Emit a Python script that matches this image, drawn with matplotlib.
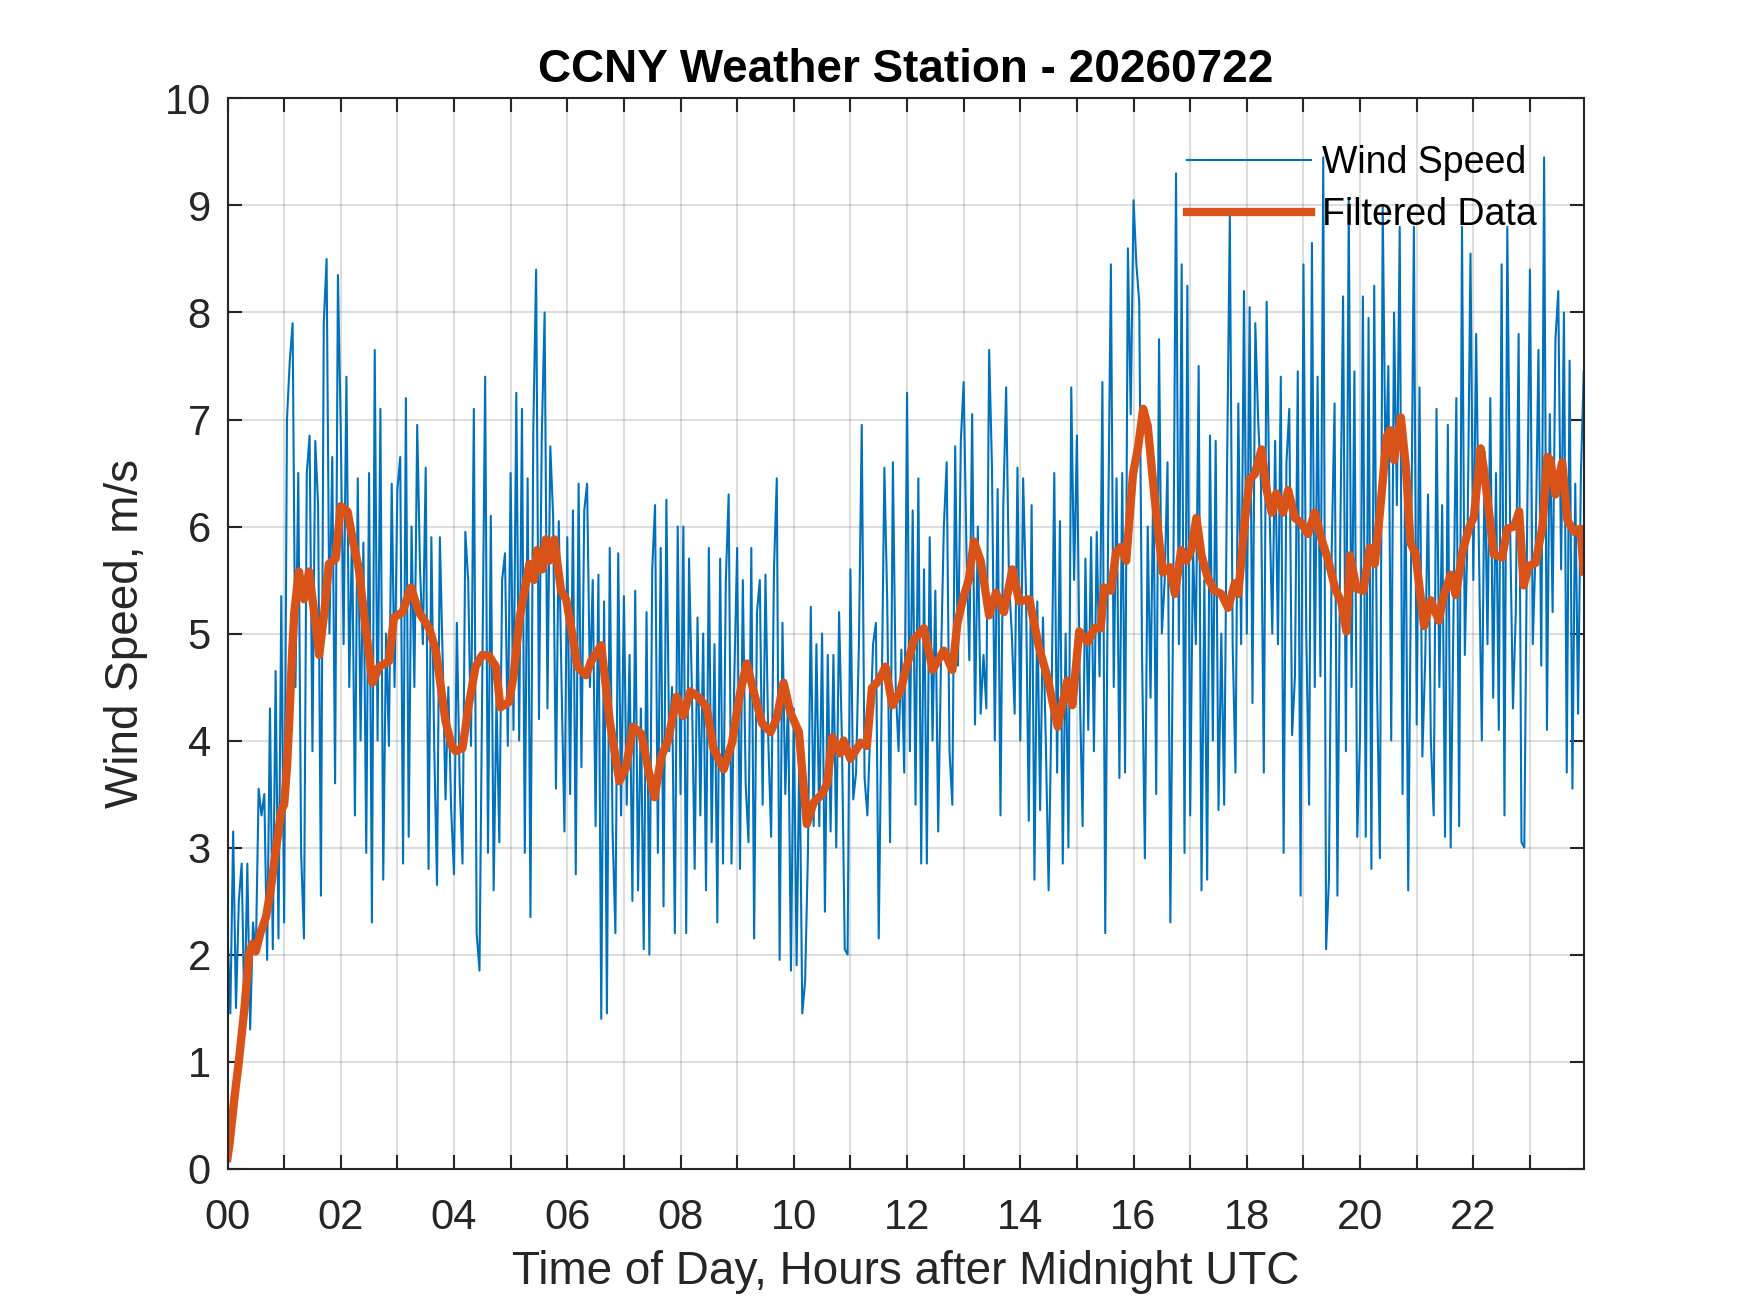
import numpy as np
import matplotlib.pyplot as plt

plt.rcParams['font.family'] = ['Liberation Sans', 'DejaVu Sans']

# raw wind speed, one value every 3 minutes (m/s), one row per hour
sample_minutes = 3
wind_speed = [
    2.2, 1.45, 3.15, 1.5, 2.5, 2.85, 1.4, 2.85, 1.3, 2.3, 2.0, 3.55, 3.3, 3.5, 1.95, 4.3, 2.05, 4.65, 2.15, 5.35,
    2.3, 7.0, 7.55, 7.9, 4.5, 6.5, 2.95, 2.15, 6.5, 6.85, 3.9, 6.8, 6.2, 2.55, 7.9, 8.5, 5.0, 6.65, 3.6, 8.35,
    6.9, 4.9, 7.4, 4.5, 6.0, 3.3, 6.45, 4.0, 5.85, 2.95, 6.5, 2.3, 7.65, 4.0, 7.1, 2.7, 5.0, 3.95, 6.4, 4.5,
    6.35, 6.65, 2.85, 7.2, 3.1, 6.0, 4.5, 6.95, 5.6, 4.9, 6.55, 2.8, 5.9, 3.95, 2.65, 5.9, 4.75, 3.45, 4.5, 3.35,
    2.75, 5.1, 3.6, 2.85, 5.95, 5.5, 3.95, 7.1, 2.2, 1.85, 4.6, 7.4, 2.95, 6.1, 2.6, 4.4, 3.05, 5.5, 5.75, 3.95,
    6.5, 4.1, 7.25, 4.0, 7.1, 2.95, 6.45, 2.35, 6.9, 8.4, 4.2, 6.85, 8.0, 4.3, 6.75, 6.1, 3.55, 6.05, 4.5, 3.15,
    5.9, 3.5, 6.15, 2.75, 6.4, 3.75, 6.15, 6.4, 4.5, 5.5, 3.2, 5.55, 1.4, 5.3, 1.45, 5.8, 3.15, 2.2, 5.75, 3.3,
    5.35, 3.4, 4.8, 2.5, 5.4, 2.6, 4.3, 2.05, 5.2, 2.0, 5.6, 6.2, 2.95, 5.8, 2.45, 6.25, 3.9, 4.5, 2.2, 6.0,
    3.5, 6.0, 2.2, 5.7, 4.5, 2.8, 5.15, 3.3, 5.0, 2.6, 5.8, 3.05, 4.9, 2.3, 5.7, 2.85, 5.5, 6.3, 2.85, 4.6,
    5.8, 2.8, 5.5, 3.6, 3.05, 5.8, 2.15, 5.2, 5.5, 3.4, 5.55, 4.0, 3.1, 5.6, 6.45, 1.95, 5.1, 3.5, 4.4, 1.85,
    4.3, 1.9, 4.0, 1.45, 1.75, 2.95, 5.25, 3.2, 4.9, 3.2, 5.0, 2.4, 4.8, 3.15, 4.8, 3.0, 5.2, 4.0, 2.05, 2.0,
    5.6, 3.45, 3.7, 4.9, 6.95, 3.65, 3.3, 4.1, 4.9, 5.1, 2.15, 4.3, 6.55, 5.3, 3.05, 6.6, 4.5, 3.9, 4.85, 3.7,
    7.25, 3.9, 6.15, 3.4, 6.45, 2.85, 5.6, 2.85, 5.9, 4.0, 5.4, 3.15, 4.75, 6.0, 6.6, 3.9, 3.4, 6.75, 4.7, 6.8,
    7.35, 5.75, 4.75, 7.05, 4.15, 6.0, 4.25, 4.8, 4.3, 7.65, 6.55, 4.0, 6.35, 3.3, 6.2, 7.3, 5.5, 5.0, 4.25, 6.55,
    4.0, 6.45, 5.4, 3.25, 6.2, 2.7, 5.3, 3.35, 5.15, 4.0, 2.6, 4.3, 6.5, 3.7, 6.05, 2.85, 5.0, 3.0, 7.3, 5.5,
    6.85, 4.5, 3.2, 5.7, 4.1, 5.9, 3.9, 5.95, 4.6, 7.35, 2.2, 5.9, 8.45, 4.5, 6.45, 3.65, 6.5, 3.7, 8.6, 7.05,
    9.05, 8.45, 8.1, 4.8, 2.9, 6.0, 4.4, 6.5, 3.5, 7.75, 5.0, 5.5, 6.6, 2.3, 5.3, 9.3, 4.9, 8.45, 2.95, 8.25,
    3.3, 5.8, 4.9, 7.5, 2.6, 5.5, 2.7, 6.85, 4.0, 6.8, 3.35, 5.0, 3.4, 6.5, 8.9, 4.9, 3.7, 7.15, 4.9, 8.2,
    5.0, 8.05, 4.35, 7.9, 7.0, 6.4, 3.7, 8.1, 6.2, 5.0, 6.8, 4.9, 7.4, 2.95, 6.6, 7.1, 4.05, 4.6, 7.45, 2.55,
    8.45, 5.0, 3.4, 8.65, 4.5, 7.4, 4.6, 9.45, 2.05, 2.7, 5.8, 7.15, 2.55, 5.9, 8.15, 3.9, 9.05, 4.5, 7.45, 3.1,
    4.05, 8.15, 3.1, 7.95, 2.8, 8.25, 4.5, 2.9, 9.0, 6.5, 7.5, 4.0, 8.0, 6.2, 8.8, 3.5, 6.7, 2.6, 5.6, 8.8,
    4.15, 7.3, 3.85, 4.75, 6.3, 4.0, 3.3, 7.1, 4.5, 6.2, 3.1, 6.95, 3.0, 5.2, 7.2, 3.2, 8.8, 4.8, 6.0, 8.55,
    5.5, 7.8, 5.75, 4.0, 6.7, 4.9, 7.2, 4.4, 6.5, 4.1, 8.45, 3.3, 8.8, 6.0, 4.3, 5.2, 7.8, 3.05, 3.0, 6.0,
    8.4, 4.9, 5.8, 7.65, 4.7, 9.45, 4.1, 7.05, 5.2, 7.75, 8.2, 5.6, 8.0, 3.7, 7.55, 3.55, 6.4, 4.25, 6.5, 7.45,
]

# filtered curve (hour, m/s)
filt_hours = [
    0.00, 0.04, 0.12, 0.20, 0.30, 0.38, 0.44, 0.50, 0.58, 0.68, 0.76, 0.85, 0.95, 1.00, 1.05, 1.09, 1.14, 1.18,
    1.26, 1.35, 1.44, 1.53, 1.62, 1.71, 1.79, 1.91, 2.00, 2.12, 2.21, 2.32, 2.44, 2.56, 2.68, 2.85, 2.94, 3.09,
    3.24, 3.38, 3.56, 3.68, 3.85, 3.96, 4.03, 4.15, 4.26, 4.38, 4.50, 4.62, 4.74, 4.82, 4.97, 5.05, 5.16, 5.33,
    5.41, 5.47, 5.56, 5.62, 5.68, 5.77, 5.89, 5.98, 6.07, 6.18, 6.33, 6.42, 6.60, 6.75, 6.92, 7.04, 7.16, 7.31,
    7.43, 7.54, 7.66, 7.78, 7.93, 8.05, 8.17, 8.31, 8.46, 8.58, 8.76, 8.91, 9.05, 9.17, 9.29, 9.44, 9.59, 9.70,
    9.82, 9.94, 10.09, 10.23, 10.35, 10.50, 10.59, 10.68, 10.82, 10.88, 11.00, 11.18, 11.29, 11.38, 11.50,
    11.62, 11.74, 11.88, 11.97, 12.12, 12.30, 12.45, 12.65, 12.80, 12.89, 13.00, 13.09, 13.18, 13.30, 13.45,
    13.57, 13.71, 13.86, 13.98, 14.16, 14.33, 14.48, 14.66, 14.83, 14.92, 15.04, 15.19, 15.31, 15.42, 15.48,
    15.60, 15.69, 15.78, 15.87, 15.99, 16.08, 16.17, 16.25, 16.37, 16.46, 16.52, 16.64, 16.73, 16.84, 16.93,
    17.02, 17.11, 17.20, 17.31, 17.43, 17.55, 17.67, 17.79, 17.85, 17.96, 18.05, 18.14, 18.26, 18.35, 18.44,
    18.52, 18.64, 18.73, 18.85, 18.97, 19.08, 19.20, 19.32, 19.44, 19.56, 19.67, 19.76, 19.82, 19.94, 20.06,
    20.17, 20.26, 20.35, 20.47, 20.53, 20.60, 20.72, 20.81, 20.89, 20.98, 21.07, 21.13, 21.25, 21.39, 21.48,
    21.60, 21.69, 21.81, 21.92, 22.01, 22.13, 22.19, 22.28, 22.36, 22.51, 22.60, 22.72, 22.81, 22.89, 22.98,
    23.10, 23.22, 23.31, 23.36, 23.45, 23.57, 23.66, 23.78, 23.89, 23.95,
]
filt_speed = [
    0.10, 0.25, 0.65, 1.00, 1.50, 2.00, 2.10, 2.03, 2.20, 2.35, 2.60, 2.96, 3.35, 3.40, 3.75, 4.18, 4.80, 5.20,
    5.58, 5.32, 5.58, 5.20, 4.80, 5.20, 5.65, 5.70, 6.19, 6.14, 5.88, 5.60, 5.05, 4.54, 4.69, 4.74, 5.15, 5.20,
    5.43, 5.20, 5.05, 4.84, 4.18, 3.95, 3.90, 3.93, 4.33, 4.69, 4.80, 4.79, 4.69, 4.31, 4.36, 4.60, 5.15, 5.65,
    5.50, 5.78, 5.60, 5.88, 5.68, 5.88, 5.40, 5.32, 5.05, 4.69, 4.61, 4.74, 4.89, 4.18, 3.62, 3.75, 4.13, 4.06,
    3.73, 3.47, 3.85, 4.00, 4.41, 4.23, 4.46, 4.41, 4.31, 3.93, 3.73, 3.98, 4.44, 4.72, 4.46, 4.16, 4.08, 4.21,
    4.54, 4.26, 4.08, 3.22, 3.42, 3.50, 3.60, 4.03, 3.88, 4.00, 3.83, 3.98, 3.95, 4.49, 4.56,
    4.69, 4.33, 4.46, 4.64, 4.94, 5.05, 4.66, 4.84, 4.66, 5.10, 5.35, 5.50, 5.86, 5.68, 5.17,
    5.38, 5.20, 5.60, 5.30, 5.32, 4.87, 4.59, 4.13, 4.56, 4.33, 5.02, 4.92, 5.05, 5.05, 5.43,
    5.40, 5.76, 5.81, 5.68, 6.49, 6.74, 7.10, 6.94, 6.28, 5.83, 5.57, 5.62, 5.37, 5.78, 5.68,
    5.78, 6.08, 5.73, 5.52, 5.40, 5.37, 5.24, 5.47, 5.37, 6.03, 6.44, 6.49, 6.72, 6.34, 6.13,
    6.31, 6.13, 6.34, 6.08, 6.03, 5.93, 6.13, 5.88, 5.68, 5.42, 5.29, 5.02, 5.73, 5.42, 5.40,
    5.80, 5.65, 6.13, 6.84, 6.90, 6.62, 7.02, 6.55, 5.85, 5.74, 5.34, 5.07, 5.31, 5.12, 5.36,
    5.55, 5.36, 5.77, 5.98, 6.09, 6.73, 6.52, 6.12, 5.74, 5.71, 5.98, 6.00, 6.14, 5.45, 5.63,
    5.66, 6.00, 6.65, 6.62, 6.30, 6.60, 6.06, 5.95, 5.98, 5.58,
]

raw_hours = np.arange(len(wind_speed)) * sample_minutes / 60.0

hour_ticks = np.arange(0, 24)
hour_labels = ['%02d' % h if h % 2 == 0 else '' for h in hour_ticks]

dark = (0.15, 0.15, 0.15)

fig = plt.figure(figsize=(1750 / 300, 1313 / 300), dpi=300)
ax = fig.add_axes([0.13, 0.11, 0.775, 0.815])

ax.plot(raw_hours, wind_speed, color='#0072BD', lw=0.5, label='Wind Speed')
ax.plot(filt_hours, filt_speed, color='#D95319', lw=2.0, label='Filtered Data')

ax.set_xlim(0, raw_hours[-1])
ax.set_ylim(0, 10)
ax.set_xticks(hour_ticks)
ax.set_xticklabels(hour_labels)
ax.set_yticks(np.arange(0, 11))

ax.grid(True, color=dark, alpha=0.15, lw=0.5)
ax.set_axisbelow(True)
ax.tick_params(direction='in', length=3.3, width=0.5, colors=dark, labelsize=10,
               top=True, right=True)
ax.tick_params(axis='x', pad=7)
ax.tick_params(axis='y', pad=4)
for s in ax.spines.values():
    s.set_linewidth(0.5)
    s.set_color(dark)

ax.set_title('CCNY Weather Station - 20260722', fontsize=11, fontweight='bold', pad=4)
ax.set_xlabel('Time of Day, Hours after Midnight UTC', fontsize=11, color=dark, labelpad=3)
ax.set_ylabel('Wind Speed, m/s', fontsize=11, color=dark)

leg = ax.legend(loc='upper right', frameon=False, fontsize=9, handlelength=3.3,
                handletextpad=0.3, labelspacing=0.42, borderaxespad=0.85)

fig.savefig('out.png', dpi=300)
